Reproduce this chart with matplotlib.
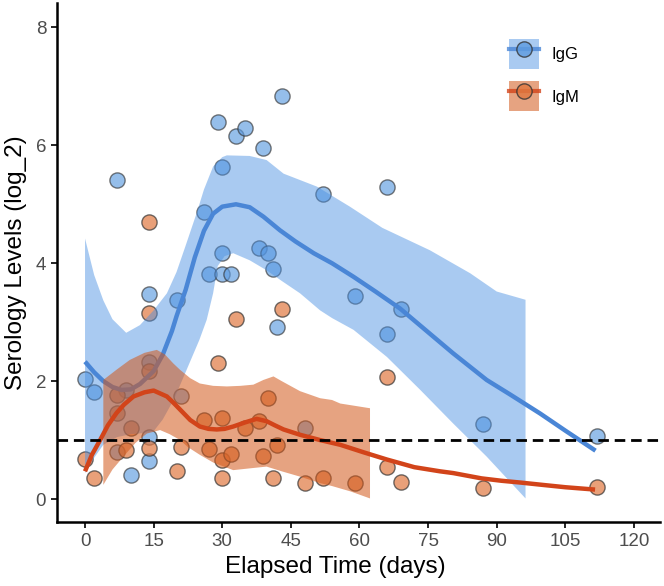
import numpy as np
import matplotlib
matplotlib.use("Agg")
import matplotlib.pyplot as plt
from matplotlib.patches import Patch
from matplotlib.lines import Line2D

plt.rcParams['font.family'] = ['Liberation Sans', 'DejaVu Sans']

# ---- data ----
igg_x = [0, 2, 7, 7, 9, 10, 14, 14, 14, 14, 20, 21, 26, 27, 29, 30, 30, 30, 32, 33, 35,
         38, 39, 40, 41, 42, 43, 48, 52, 59, 66, 66, 69, 87, 112]
igg_y = [2.04, 1.82, 5.41, 0.79, 1.85, 0.41, 3.47, 2.32, 1.06, 0.64, 3.37, 1.74, 4.87, 3.82,
         6.40, 5.63, 4.18, 3.82, 3.82, 6.16, 6.30, 4.26, 5.96, 4.18, 3.91, 2.92, 6.84, 1.20,
         5.17, 3.45, 5.30, 2.80, 3.23, 1.27, 1.07]
igm_x = [0, 2, 7, 7, 9, 10, 14, 14, 14, 14, 20, 21, 26, 27, 29, 30, 30, 30, 32, 33, 35,
         38, 39, 40, 41, 42, 43, 48, 52, 59, 66, 66, 69, 87, 112]
igm_y = [0.68, 0.35, 1.77, 1.46, 0.83, 1.21, 4.70, 3.15, 2.18, 0.86, 0.47, 0.89, 1.34, 0.85,
         2.31, 1.38, 0.66, 0.35, 0.77, 3.06, 1.20, 1.33, 0.73, 1.72, 0.36, 0.92, 3.22, 0.28,
         0.35, 0.28, 2.07, 0.55, 0.29, 0.19, 0.21]

# smoothed fits
igg_fit_x = [0, 2, 4, 6, 8, 10, 12, 15, 17, 19, 20, 22, 24, 26, 28, 30, 33, 36, 39, 42.6,
             46, 50, 54, 58.7, 63.5, 68.9, 75, 80.5, 87.8, 93, 99.5, 105, 111.6]
igg_fit_y = [2.33, 2.15, 2.0, 1.9, 1.85, 1.86, 1.95, 2.17, 2.45, 2.85, 3.1, 3.55, 4.1, 4.55,
             4.84, 4.96, 5.0, 4.95, 4.79, 4.56, 4.37, 4.17, 4.0, 3.77, 3.52, 3.23, 2.83, 2.47,
             2.02, 1.77, 1.45, 1.16, 0.82]
igg_hi_x = [0, 2, 4, 6, 9, 12, 15, 17.9, 20, 22, 24.4, 26, 28, 30, 31, 36, 39.7, 43.4, 50.7,
            57.9, 65, 75.4, 84.2, 90, 96.3]
igg_hi_y = [4.42, 3.8, 3.37, 3.05, 2.82, 2.95, 3.2, 3.49, 3.85, 4.3, 4.85, 5.25, 5.64, 5.8,
            5.83, 5.82, 5.75, 5.52, 5.3, 4.96, 4.6, 4.22, 3.83, 3.52, 3.38]
igg_lo_x = [0, 2, 4, 7, 10, 13, 15, 17, 19.5, 22.2, 25, 26.6, 28, 29, 30.5, 32.4, 36, 39.7,
            43, 47, 51.4, 54, 58.7, 66, 73.3, 80.5, 87.8, 96.3]
igg_lo_y = [0.44, 0.7, 0.92, 1.05, 1.1, 1.12, 1.15, 1.35, 1.7, 2.19, 2.7, 3.04, 3.49, 3.95,
            4.12, 4.17, 4.05, 3.88, 3.7, 3.49, 3.2, 3.07, 2.87, 2.41, 1.85, 1.28, 0.72, 0.01]

igm_fit_x = [0, 1.5, 3.3, 5, 6.9, 8.5, 10.6, 13, 15, 17.9, 19.5, 21.5, 23, 25.1, 27, 28.8,
             30.5, 32.4, 35, 37.5, 39.7, 41.5, 43.4, 47, 51.4, 55.8, 61, 66, 72, 77.6, 80.5,
             86.7, 91, 95.1, 100, 105, 111.5]
igm_fit_y = [0.47, 0.75, 1.0, 1.25, 1.46, 1.6, 1.74, 1.81, 1.84, 1.74, 1.62, 1.46, 1.34, 1.23,
             1.19, 1.18, 1.19, 1.23, 1.30, 1.36, 1.32, 1.25, 1.18, 1.09, 1.0, 0.92, 0.79, 0.67,
             0.54, 0.47, 0.44, 0.35, 0.31, 0.28, 0.24, 0.2, 0.16]
igm_hi_x = [4, 7, 9.8, 13, 15.7, 17.5, 19.3, 20.8, 23, 25.1, 28, 31, 34, 36.8, 39, 41.2, 43,
            47, 51.4, 54, 55.8, 62.3]
igm_hi_y = [2.02, 2.2, 2.36, 2.48, 2.53, 2.45, 2.3, 2.19, 2.05, 1.96, 1.92, 1.91, 1.92, 1.94,
            2.02, 2.08, 2.0, 1.83, 1.71, 1.68, 1.62, 1.54]
igm_lo_x = [4, 6, 8.4, 11, 13.5, 16.4, 18.5, 20.8, 22.5, 25.1, 28, 32.4, 36, 39.7, 43, 47,
            51.4, 54, 58, 62.3]
igm_lo_y = [0.24, 0.5, 0.72, 0.95, 1.11, 1.17, 1.1, 1.0, 0.88, 0.75, 0.62, 0.49, 0.52, 0.55,
            0.47, 0.38, 0.27, 0.22, 0.13, 0.01]

threshold = 1.0
x_ticks = [0, 15, 30, 45, 60, 75, 90, 105, 120]
y_ticks = [0, 2, 4, 6, 8]
labels = ["IgG", "IgM"]

# ---- styles ----
igg_pt = "#5d9be0"
igm_pt = "#e07840"
igg_line = "#4a86d6"
igm_line = "#d2441a"
igg_band = "#4a90e2"
igm_band = "#d2581a"

fig = plt.figure(figsize=(6.64, 5.86), dpi=100)
ax = fig.add_axes([0.0863, 0.1092, 0.9077, 0.8852])

ax.scatter(igg_x, igg_y, s=120, facecolor=igg_pt, alpha=0.65, edgecolor="#333333",
           linewidth=1.0, zorder=2)
ax.scatter(igm_x, igm_y, s=120, facecolor=igm_pt, alpha=0.7, edgecolor="#333333",
           linewidth=1.0, zorder=2)

def band(xh, yh, xl, yl, color, alpha, z):
    px = np.concatenate([xh, xl[::-1]])
    py = np.concatenate([yh, yl[::-1]])
    ax.fill(px, py, color=color, alpha=alpha, linewidth=0, zorder=z)

band(np.array(igg_hi_x), np.array(igg_hi_y), np.array(igg_lo_x), np.array(igg_lo_y),
     igg_band, 0.47, 3)
ax.plot(igg_fit_x, igg_fit_y, color=igg_line, lw=3.2, solid_capstyle="butt", zorder=4)
band(np.array(igm_hi_x), np.array(igm_hi_y), np.array(igm_lo_x), np.array(igm_lo_y),
     igm_band, 0.55, 5)
ax.plot(igm_fit_x, igm_fit_y, color=igm_line, lw=3.2, solid_capstyle="butt", zorder=6)

ax.axhline(threshold, color="black", lw=2.0, ls=(0, (3.8, 2.1)), zorder=7)

ax.set_xlim(-6.06, 125.7)
ax.set_ylim(-0.39, 8.41)
ax.set_xticks(x_ticks)
ax.set_yticks(y_ticks)
for s in ["top", "right"]:
    ax.spines[s].set_visible(False)
for s in ["left", "bottom"]:
    ax.spines[s].set_linewidth(1.8)
    ax.spines[s].set_color("black")
ax.tick_params(axis="both", length=4, width=1.2, color="black", labelsize=13.5,
               labelcolor="#4d4d4d", pad=4)
ax.set_xlabel("Elapsed Time (days)", fontsize=17.5)
ax.set_ylabel("Serology Levels (log_2)", fontsize=17.5)
ax.xaxis.set_label_coords(0.462, -0.0655)
ax.yaxis.set_label_coords(-0.050, 0.5)

h_igg = (Patch(facecolor=igg_band, alpha=0.47, edgecolor="none"),
         Line2D([], [], color=igg_line, lw=3, marker="o", markersize=11,
                markerfacecolor=igg_pt, markeredgecolor="#333333", alpha=0.8))
h_igm = (Patch(facecolor=igm_band, alpha=0.55, edgecolor="none"),
         Line2D([], [], color=igm_line, lw=3, marker="o", markersize=11,
                markerfacecolor=igm_pt, markeredgecolor="#333333", alpha=0.8))
leg = ax.legend([h_igg, h_igm], labels, loc="upper left", bbox_to_anchor=(0.749, 0.9306),
                frameon=False, fontsize=12, handlelength=1.8, handleheight=2.4,
                labelspacing=0.72, handletextpad=0.78, borderpad=0, borderaxespad=0)

fig.savefig("out.png", dpi=100)
